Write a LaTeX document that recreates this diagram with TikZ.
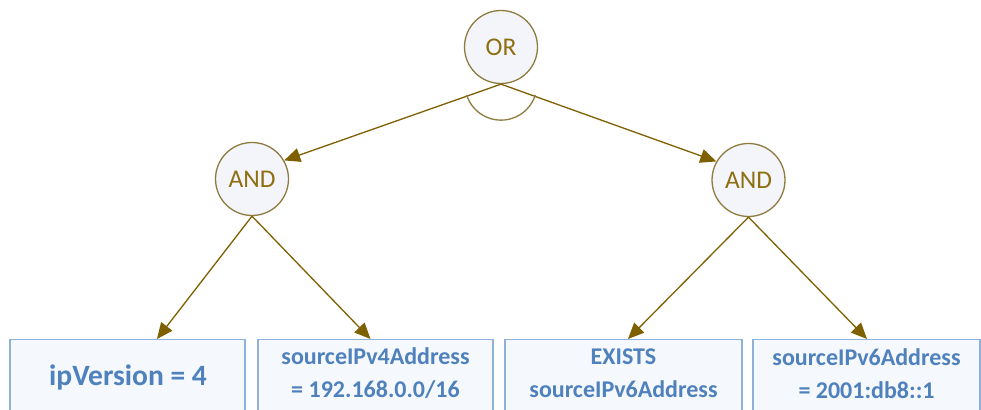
\documentclass[tikz,border=0pt]{standalone}
\usepackage{fontspec}
\setmainfont{Carlito}
\usetikzlibrary{arrows.meta}
\definecolor{gold}{HTML}{8E7B3E}
\definecolor{arrowc}{HTML}{7F6000}
\definecolor{goldtext}{HTML}{8F6E10}
\definecolor{boxline}{HTML}{8EB1DB}
\definecolor{boxfill}{HTML}{F5F8FC}
\definecolor{circfill}{HTML}{F3F5FB}
\definecolor{bluetext}{HTML}{4F81BD}
\tikzset{
  gate/.style={circle, draw=gold, line width=1.3pt, fill=circfill, minimum size=73pt, inner sep=0pt,
    text=goldtext, font=\fontsize{25.5}{28}\selectfont},
  leafbox/.style={rectangle, draw=boxline, line width=1.5pt, fill=boxfill, anchor=north, minimum height=100pt, inner sep=0pt},
  leaftext/.style={text=bluetext, align=center, font=\bfseries\fontsize{24}{33}\selectfont},
  arr/.style={draw=arrowc, line width=1.3pt, -{Triangle[length=16pt, width=14pt]}},
  plain/.style={draw=gold, line width=1.3pt}
}
\begin{document}
\begin{tikzpicture}[x=1pt,y=1pt]
\useasboundingbox (0,0) rectangle (981,409);
\clip (0,0) rectangle (981,409);
\fill[white] (0,0) rectangle (981,409);
% leaf boxes
\node[leafbox, minimum width=235pt] (b1) at (127.5,70) {};
\node[leafbox, minimum width=235pt] (b2) at (375.5,70) {};
\node[leafbox, minimum width=237pt] (b3) at (623.5,70) {};
\node[leafbox, minimum width=227pt] (b4) at (866.5,70) {};
\node[leaftext, font=\bfseries\fontsize{29.5}{32}\selectfont] (t1) at (128,32) {ipVersion = 4};
\node[leaftext] (t2) at (375.5,35.5) {sourceIPv4Address\\= 192.168.0.0/16};
\node[leaftext] (t3) at (623.5,35.5) {EXISTS\\sourceIPv6Address};
\node[leaftext] (t4) at (866.5,35.5) {sourceIPv6Address\\= 2001:db8::1};
% gates
\node[gate] (or) at (501,362) {OR};
\node[gate] (andL) at (252,230) {AND};
\node[gate] (andR) at (748.5,229) {AND};
% connectors
\draw[arr] (or.south) -- (andL.30);
\draw[arr] (or.south) -- (andR.150);
\draw[plain] ([shift={(197.5:36pt)}]or.south) arc[start angle=197.5, end angle=342.5, radius=36pt];
\draw[arr] (andL.south) -- ([xshift=29.5pt]b1.north);
\draw[arr] (andL.south) -- ([xshift=-5pt]b2.north);
\draw[arr] (andR.south) -- ([xshift=4.5pt]b3.north);
\draw[arr] (andR.south) -- ([xshift=0.5pt]b4.north);
\end{tikzpicture}
\end{document}
